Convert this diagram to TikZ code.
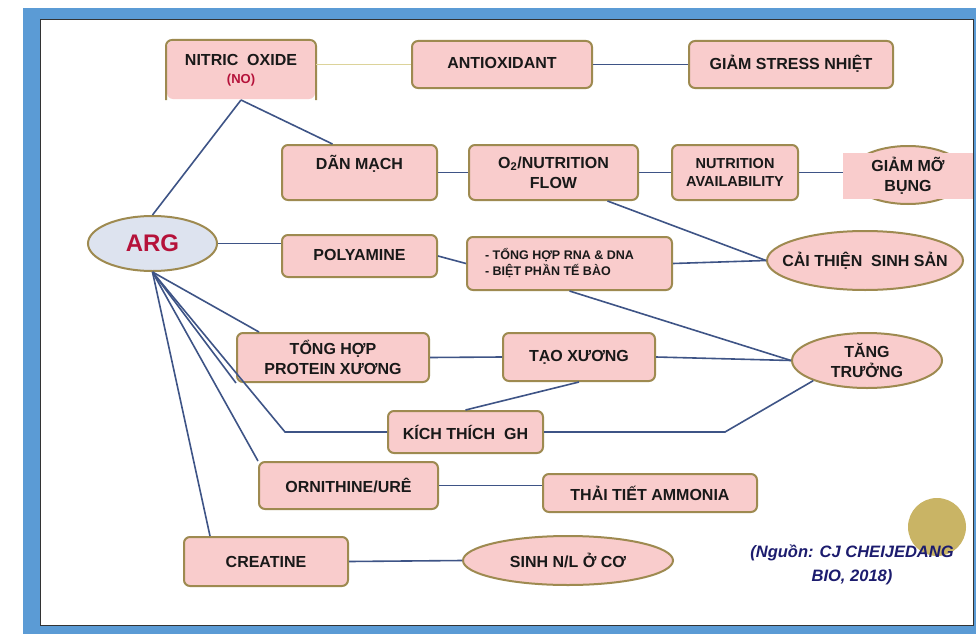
\documentclass[tikz,border=0pt]{standalone}
\usepackage{fontspec}
\setmainfont{Liberation Sans}
\usetikzlibrary{calc,shapes.geometric}
\definecolor{frameblue}{HTML}{5B9BD5}
\definecolor{boxfill}{HTML}{F9CCCC}
\definecolor{boxedge}{HTML}{9E8A50}
\definecolor{argfill}{HTML}{DDE3EF}
\definecolor{argred}{HTML}{B5123A}
\definecolor{linkcol}{HTML}{3E5486}
\definecolor{olivelink}{HTML}{DCD39A}
\definecolor{srccol}{HTML}{1C1C6E}
\definecolor{goldc}{HTML}{C9B465}
\tikzset{
  boxn/.style={rectangle, rounded corners=6pt, fill=boxfill, draw=boxedge, line width=2pt,
     align=center, inner sep=0pt, font=\fontsize{16}{20}\selectfont\bfseries, text=black!90},
  ellipn/.style={ellipse, fill=boxfill, draw=boxedge, line width=2pt, inner sep=0pt},
  lbl/.style={align=center, inner sep=0pt, font=\fontsize{16}{20}\selectfont\bfseries, text=black!90},
  link/.style={draw=linkcol, line width=1.6pt}
}
\begin{document}
\begin{tikzpicture}[x=1pt,y=-1pt]
\useasboundingbox (0,0) rectangle (976,634);
% frame
\fill[frameblue] (23,8) rectangle (976,634);
\fill[white] (40,19) rectangle (973,625);
\draw[black!80, line width=0.8pt] (40,19) rectangle (973,625);

% nodes
\node[boxn, draw=none, minimum width=148pt, minimum height=58pt] (no) at (241,70)
  {NITRIC\ \ OXIDE\\[-2pt]{\color{argred}\fontsize{13}{16}\selectfont (NO)}};
\draw[boxedge, line width=2pt, rounded corners=6pt] (no.south west) -- (no.north west) -- (no.north east) -- (no.south east);
\node[boxn, minimum width=180pt, minimum height=47pt] (anti) at (502,64.5) {\raisebox{4pt}{ANTIOXIDANT}};
\node[boxn, minimum width=204pt, minimum height=47pt] (stress) at (791,64.5) {\raisebox{4pt}{GIẢM STRESS NHIỆT}};
\node[boxn, minimum width=155pt, minimum height=55pt] (dan) at (359.5,172.5) {DÃN MẠCH\\ ~};
\node[boxn, minimum width=169pt, minimum height=55pt] (o2) at (553.5,172.5) {O\textsubscript{2}/NUTRITION\\FLOW};
\node[boxn, minimum width=126pt, minimum height=55pt, font=\fontsize{14.5}{18}\selectfont\bfseries] (avail) at (735,172.5) {NUTRITION\\AVAILABILITY};
\node[ellipn, minimum width=118pt, minimum height=58pt] (moell) at (908,175) {};
\node[rectangle, fill=boxfill, minimum width=130pt, minimum height=46pt, inner sep=0pt, align=center,
  font=\fontsize{16}{20}\selectfont\bfseries, text=black!90] (mo) at (908,176) {GIẢM MỠ\\BỤNG};
\node[ellipn, fill=argfill, minimum width=129pt, minimum height=55pt,
  label={[lbl, text=argred, font=\fontsize{24}{28}\selectfont\bfseries]center:ARG}] (arg) at (152.5,243.5) {};
\node[boxn, minimum width=155pt, minimum height=42pt] (poly) at (359.5,256) {\raisebox{3pt}{POLYAMINE}};
\node[boxn, minimum width=205pt, minimum height=53pt, align=left,
  font=\fontsize{12.5}{16}\selectfont\bfseries] (rna) at (569.5,263.5)
  {\hspace*{-20pt}- TỔNG HỢP RNA \& DNA\\\hspace*{-20pt}- BIỆT PHẦN TẾ BÀO};
\node[ellipn, minimum width=196pt, minimum height=59pt,
  label={[lbl]center:CẢI THIỆN\ \ SINH SẢN}] (cai) at (865,260.5) {};
\node[boxn, minimum width=192pt, minimum height=49pt] (prot) at (333,357.5) {TỔNG HỢP\\PROTEIN XƯƠNG};
\node[boxn, minimum width=152pt, minimum height=48pt] (tao) at (579,357) {TẠO XƯƠNG};
\node[ellipn, minimum width=150pt, minimum height=55pt,
  label={[lbl]center:TĂNG\\TRƯỞNG}] (tang) at (867,360.5) {};
\node[boxn, minimum width=155pt, minimum height=42pt] (kich) at (465.5,432) {KÍCH THÍCH\ \ GH};
\node[boxn, minimum width=179pt, minimum height=47pt] (orn) at (348.5,485.5) {ORNITHINE/URÊ};
\node[boxn, minimum width=214pt, minimum height=38pt] (thai) at (650,493) {THẢI TIẾT AMMONIA};
\node[boxn, minimum width=164pt, minimum height=49pt] (crea) at (266,561.5) {CREATINE};
\node[ellipn, minimum width=210pt, minimum height=49pt,
  label={[lbl]center:SINH N/L Ở CƠ}] (sinh) at (568,560.5) {};
\node[circle, fill=goldc, minimum size=58pt, inner sep=0pt] (gold) at (937,527) {};
\node[align=center, text=srccol, font=\fontsize{16.5}{24}\selectfont\bfseries\itshape] (src) at (852,565)
  {(Nguồn: CJ CHEIJEDANG\\BIO, 2018)};

% connectors
\coordinate (kbend) at (285,432);
\coordinate (tbend) at (725,432);
\draw[draw=olivelink, line width=1.6pt] (no.east |- anti.west) -- (anti.west);
\draw[link] (anti.east) -- (stress.west);
\draw[link] (arg.north) -- (no.south);
\draw[link] (no.south) -- ($(dan.north)+(-27,0)$);
\draw[link] (dan.east) -- (o2.west);
\draw[link] (o2.east) -- (avail.west);
\draw[link] (avail.east) -- (avail.east -| mo.west);
\draw[link] ($(o2.south)+(54,0)$) -- (cai.west);
\draw[link] (arg.east) -- (poly.west |- arg.east);
\draw[link] (poly.east) -- (rna.west);
\draw[link] (rna.east) -- (cai.west);
\draw[link] (rna.south) -- (tang.west);
\draw[link] (arg.south) -- ($(prot.north west)+(23,0)$);
\draw[link] (arg.south) -- (prot.south west);
\draw[link] (prot.east) -- (tao.west);
\draw[link] (tao.east) -- (tang.west);
\draw[link] (tao.south) -- (kich.north);
\draw[link] (arg.south) -- (kbend) -- (kich.west);
\draw[link] (kich.east) -- (tbend) -- (tang.south west);
\draw[link] (arg.south) -- (orn.north west);
\draw[link] (orn.east) -- (orn.east -| thai.west);
\draw[link] (arg.south) -- ($(crea.north)+(-56,0)$);
\draw[link] (crea.east) -- (sinh.west);
\end{tikzpicture}
\end{document}
